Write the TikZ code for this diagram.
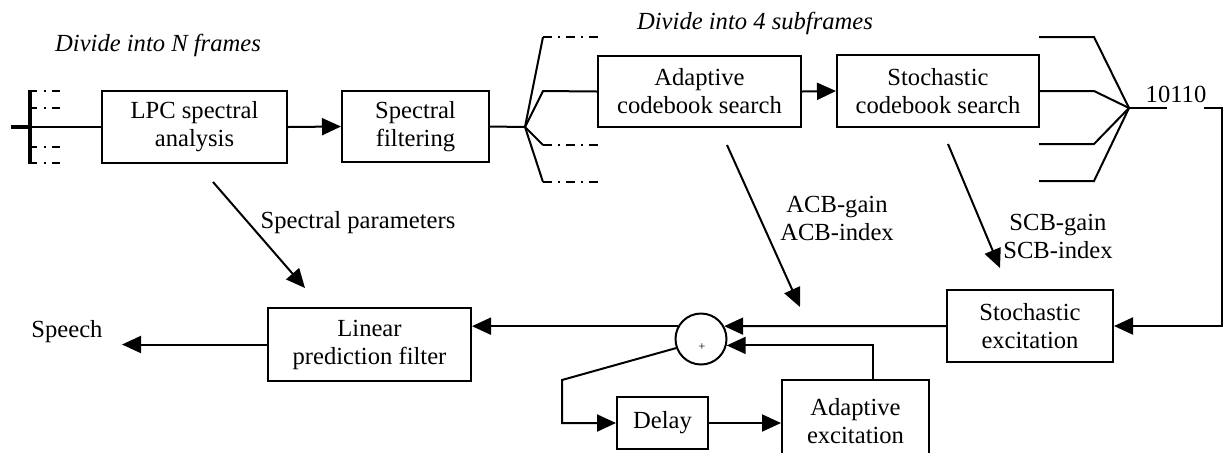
\documentclass[tikz,border=0pt]{standalone}
\usepackage{fontspec}
\setmainfont{Liberation Serif}
\usetikzlibrary{arrows.meta,calc,positioning}

\begin{document}
\begin{tikzpicture}[x=0.5pt,y=-0.5pt,
  every node/.style={font=\fontsize{12.3}{14}\selectfont},
  block/.style={draw,line width=1pt,align=center,inner sep=1pt},
  wire/.style={line width=1pt},
  arr/.style={wire,-{Triangle[length=9.5pt,width=8.5pt]}},
  dashdot/.style={wire,dash pattern=on 4.5pt off 3pt on 1pt off 3pt},
  tickline/.style={wire,dash pattern=on 3.5pt off 3.5pt on 1pt off 3pt on 4pt off 10pt},
  title/.style={font=\fontsize{12.3}{14}\selectfont\itshape},
  lbl/.style={align=center}]
  \useasboundingbox (0,0) rectangle (1227,452);
  \clip (0,0) rectangle (1227,452);

  % analysis chain
  \node[block,minimum width=92.5pt,minimum height=36pt] (lpc) at (194.5,127) {LPC spectral\\analysis};
  \node[block,minimum width=73.5pt,minimum height=35.5pt] (specfilt) at (415.5,126.5) {Spectral\\filtering};
  \node[block,minimum width=101.5pt,minimum height=35.5pt] (acbsearch) at (699.5,91.5) {Adaptive\\codebook search};
  \node[block,minimum width=101pt,minimum height=36pt] (scbsearch) at (938,91) {Stochastic\\codebook search};

  % synthesis chain
  \node[block,minimum width=101.5pt,minimum height=36.5pt] (lpf) at (369.5,344.5) {Linear\\prediction filter};
  \node[block,minimum width=83pt,minimum height=36pt] (scbexc) at (1030,326) {Stochastic\\excitation};
  \node[block,minimum width=45.5pt,minimum height=26pt] (delay) at (662.5,423) {Delay};
  \node[block,minimum width=73.5pt,minimum height=41pt] (acbexc) at (855.5,421) {Adaptive\\excitation};
  \node[draw,circle,line width=1pt,minimum size=25.5pt,inner sep=0pt] (sum) at (701,339) {};
  \node[font=\fontsize{6}{7}\selectfont] (plus) at (702,347) {+};

  % texts
  \node[title] (nframes) at (158,45) {Divide into N frames};
  \node[title] (subframes) at (755,23) {Divide into 4 subframes};
  \node (speech) at (67,332) {Speech};
  \node (code) at (1176,94) {10110};
  \node (specpar) at (358,223) {Spectral parameters};
  \node[lbl] (acbpar) at (837,218) {ACB-gain\\ACB-index};
  \node[lbl] (scbpar) at (1058,236) {SCB-gain\\SCB-index};

  \coordinate (fanL) at (525,127);
  \coordinate (fanR) at (1129,108);
  \coordinate (codeL) at (1167,108);
  \coordinate (codeR) at (1204,108);
  \coordinate (bend) at (562,380);

  % frames input
  \draw[line width=1.6pt] (11,127) -- (30,127);
  \draw[line width=2pt] (30,90) -- (30,164);
  \foreach \y in {91,108,147,163}
    \draw[tickline] (30,\y) -- (63,\y);
  \draw[wire] (30,127) -- (lpc.west);
  \draw[arr] (lpc.east) -- (specfilt.west);
  \draw[wire] (specfilt.east) -- (fanL);

  % subframe split
  \draw[wire] (fanL) -- (543,91) -- (acbsearch.west);
  \foreach \y in {37,145,182} {
    \draw[wire] (fanL) -- (543,\y);
    \draw[dashdot] (543,\y) -- (600,\y);
  }
  \draw[arr] (acbsearch.east) -- (scbsearch.west);

  % subframe merge
  \draw[wire] (scbsearch.east) -- (1094,91) -- (fanR);
  \foreach \y in {37,144,181}
    \draw[wire] (1039,\y) -- (1094,\y) -- (fanR);
  \draw[wire] (fanR) -- (codeL);
  \draw[arr] (codeR) -- (1222,108) |- (scbexc.east);

  % parameter arrows
  \draw[arr] (213,182) -- (305,288);
  \draw[arr] (727,145) -- (800,307);
  \draw[arr] (948,144) -- (1000,268);

  % excitation and synthesis
  \draw[arr] (scbexc.west) -- (sum.29);
  \draw[arr] ([xshift=8.75pt]acbexc.north) |- (sum.-14);
  \draw[arr] (sum.151) -- (sum.151 -| lpf.east);
  \draw[arr] (lpf.west) -- (122,344.5);
  \draw[arr] (sum.200) -- (bend) |- (delay.west);
  \draw[arr] (delay.east) -- (acbexc.west |- delay.east);
\end{tikzpicture}
\end{document}
